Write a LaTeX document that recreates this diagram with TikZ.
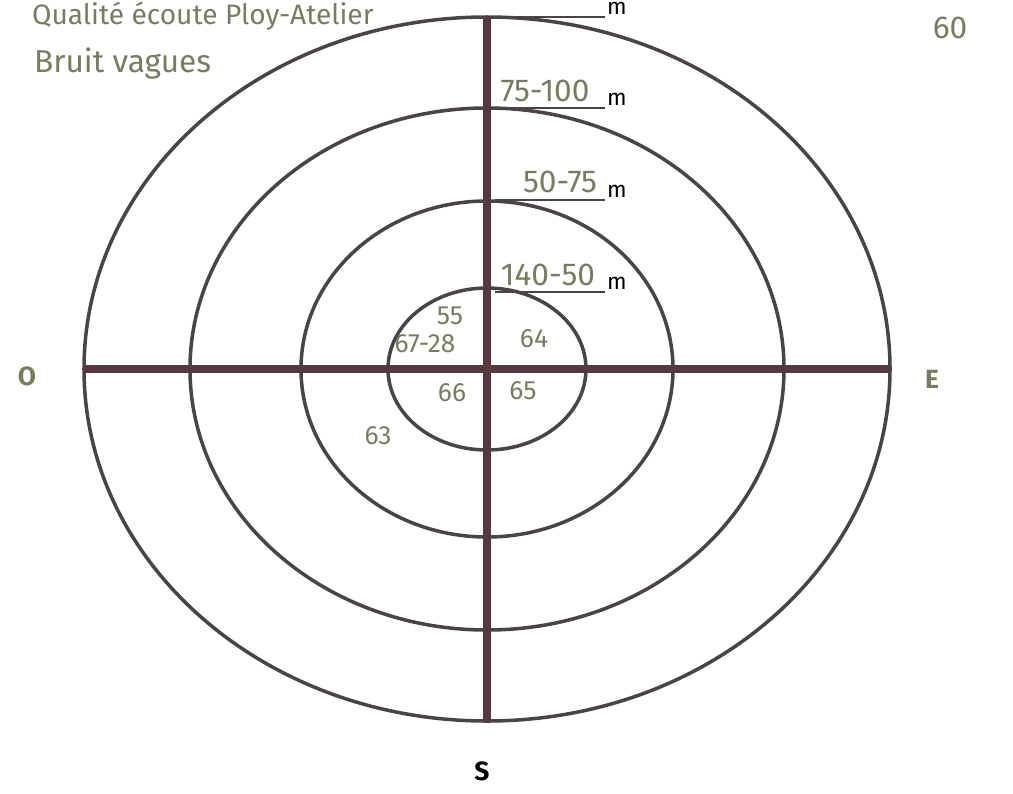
\documentclass[tikz,border=0pt]{standalone}
\usepackage{fontspec}
\setsansfont{Fira Sans}
\usetikzlibrary{positioning}
\definecolor{ink}{HTML}{56393F}
\definecolor{ringgrey}{HTML}{4A4347}
\definecolor{pencil}{HTML}{7A7C62}

\begin{document}
\begin{tikzpicture}[x=0.2mm, y=-0.2mm,
  ringline/.style={draw=ringgrey, line width=2pt},
  axisline/.style={draw=ink, line width=5pt},
  underline/.style={draw=ringgrey, line width=1.1pt},
  hand/.style={text=pencil, font=\sffamily\fontsize{15}{17}\selectfont, inner sep=1pt},
  bighand/.style={text=pencil, font=\sffamily\fontsize{18}{20}\selectfont, inner sep=1pt},
  pole/.style={font=\sffamily\bfseries\fontsize{15}{17}\selectfont, inner sep=1pt},
  unitmark/.style={font=\sffamily\fontsize{13}{15}\selectfont, inner sep=1pt, anchor=south west}
]
  \useasboundingbox (0,0) rectangle (1013,793);
  \fill[white] (0,0) rectangle (1013,793);

  % rings around the listening point
  \coordinate (c) at (487,369);
  \draw[ringline] (c) ellipse [x radius=403, y radius=352];
  \draw[ringline] (c) ellipse [x radius=297, y radius=261];
  \draw[ringline] (c) ellipse [x radius=186, y radius=168];
  \draw[ringline] (c) ellipse [x radius=99, y radius=81];

  % cross
  \coordinate (n) at (487,17);
  \coordinate (s) at (487,721);
  \coordinate (w) at (84,369);
  \coordinate (e) at (889,369);
  \draw[axisline] (n) -- (s);
  \draw[axisline] (w) -- (e);

  % distance marks
  \coordinate (d1) at (490,17);
  \coordinate (d2) at (495,108);
  \coordinate (d3) at (495,200);
  \coordinate (d4) at (495,292);
  \draw[underline] (d1) -- (605,17) coordinate (m1);
  \draw[underline] (d2) -- (605,108) coordinate (m2);
  \draw[underline] (d3) -- (605,200) coordinate (m3);
  \draw[underline] (d4) -- (605,292) coordinate (m4);
  \node[unitmark] (um1) at (m1) {m};
  \node[unitmark] (um2) at (m2) {m};
  \node[unitmark] (um3) at (m3) {m};
  \node[unitmark] (um4) at (m4) {m};
  \node[bighand] (r2) at (545,91) {75-100};
  \node[bighand] (r3) at (560,182) {50-75};
  \node[bighand] (r4) at (548,275) {140-50};

  % compass points
  \node[pole, text=pencil] (west) at (27,376) {O};
  \node[pole, text=pencil] (east) at (932,379) {E};
  \node[pole] (south) at (482,771) {S};

  % readings
  \node[hand] (v55) at (450,316) {55};
  \node[hand] (v6728) at (425,344) {67-28};
  \node[hand] (v64) at (534,339) {64};
  \node[hand] (v66) at (452,393) {66};
  \node[hand] (v65) at (523,391) {65};
  \node[hand] (v63) at (378,436) {63};

  % header notes
  \node[bighand, anchor=west, font=\sffamily\fontsize{16}{18}\selectfont] (title) at (30,16) {Qualité écoute Ploy-Atelier};
  \node[bighand, anchor=west] (noise) at (32,64) {Bruit vagues};
  \node[bighand] (note) at (950,28) {60};
\end{tikzpicture}
\end{document}
